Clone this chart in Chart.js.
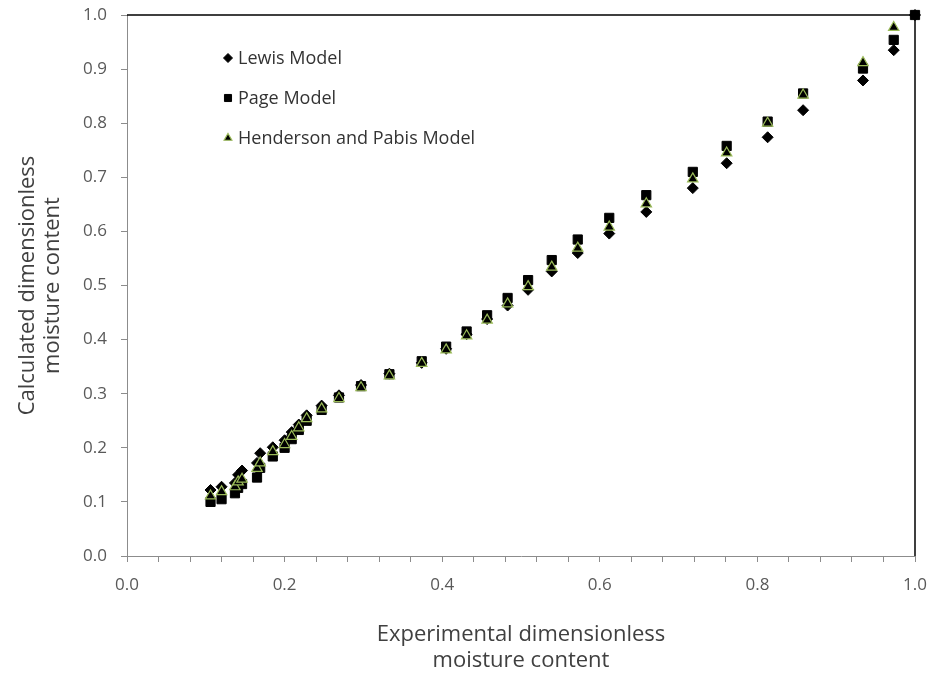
<!DOCTYPE html>
<html>
<head>
<meta charset="utf-8">
<script src="https://cdn.jsdelivr.net/npm/chart.js@4"></script>
<style>
  body { margin: 0; background: #fff; }
</style>
</head>
<body>
<canvas id="chart" width="933" height="678"></canvas>
<script>
// experimental moisture ratio (x), shared by all three models
const xExp = [0.106, 0.120, 0.137, 0.141, 0.146, 0.165, 0.169, 0.185, 0.200, 0.209, 0.218,
  0.228, 0.247, 0.269, 0.297, 0.333, 0.374, 0.405, 0.431, 0.457, 0.483, 0.509, 0.539, 0.572,
  0.612, 0.659, 0.718, 0.761, 0.813, 0.858, 0.934, 0.973, 1.000];

// calculated moisture ratio per model
const lewis = [0.122, 0.128, 0.135, 0.150, 0.158, 0.172, 0.190, 0.201, 0.214, 0.229, 0.243,
  0.260, 0.278, 0.297, 0.316, 0.337, 0.357, 0.383, 0.410, 0.438, 0.463, 0.492, 0.526, 0.560,
  0.596, 0.636, 0.680, 0.726, 0.774, 0.824, 0.879, 0.935, 1.000];
const page = [0.100, 0.105, 0.116, 0.126, 0.133, 0.145, 0.163, 0.184, 0.200, 0.216, 0.233,
  0.250, 0.270, 0.293, 0.314, 0.336, 0.360, 0.387, 0.415, 0.445, 0.477, 0.510, 0.547, 0.585,
  0.625, 0.667, 0.710, 0.758, 0.803, 0.855, 0.901, 0.954, 1.000];
// no triangle is visible at the (1,1) corner
const henderson = [0.111, 0.119, 0.128, 0.137, 0.142, 0.162, 0.172, 0.193, 0.206, 0.221, 0.237,
  0.254, 0.272, 0.291, 0.311, 0.333, 0.356, 0.381, 0.407, 0.436, 0.466, 0.498, 0.534, 0.569,
  0.608, 0.651, 0.697, 0.745, 0.800, 0.852, 0.912, 0.977, null];

const seriesNames = ["Lewis Model", "Page Model", "Henderson and Pabis Model"];
const xLabelled = [0, 0.2, 0.4, 0.6, 0.8, 1.0]; // x ticks every 0.04, labels only on these
const xTitle = ["Experimental dimensionless", "moisture content"];
const yTitle = ["Calculated dimensionless", "moisture content"];

const FONT = "'Open Sans'";
const axisGray = "#8c8c8c";
const green = "#9bbb59";

function toPoints(ys) {
  return xExp.map((x, i) => ({ x: x, y: ys[i] }));
}

// legend drawn inside the plot area, top-left, one item per row
const insideLegend = {
  id: "insideLegend",
  afterDraw(chart) {
    const { ctx, chartArea } = chart;
    ctx.save();
    chart.data.datasets.forEach((ds, i) => {
      const x = chartArea.left + 101;
      const y = chartArea.top + 43 + i * 40;
      ctx.fillStyle = ds.backgroundColor;
      ctx.strokeStyle = ds.borderColor;
      ctx.lineWidth = ds.borderWidth;
      Chart.helpers.drawPoint(ctx, {
        pointStyle: ds.pointStyle,
        radius: ds.legendRadius,
        rotation: 0,
        borderWidth: ds.borderWidth,
      }, x, y);
      ctx.fillStyle = "#333333";
      ctx.font = "18px " + FONT;
      ctx.textBaseline = "middle";
      ctx.textAlign = "left";
      ctx.fillText(ds.label, x + 10, y + 1);
    });
    // black frame on the top and right side of the plot area
    ctx.strokeStyle = "#000";
    ctx.lineWidth = 1.5;
    ctx.beginPath();
    ctx.moveTo(chartArea.left, chartArea.top);
    ctx.lineTo(chartArea.right, chartArea.top);
    ctx.lineTo(chartArea.right, chartArea.bottom);
    ctx.stroke();
    ctx.restore();
  },
};

const ctx = document.getElementById("chart").getContext("2d");
new Chart(ctx, {
  type: "scatter",
  data: {
    datasets: [
      {
        label: seriesNames[0],
        data: toPoints(lewis),
        pointStyle: "rectRot",
        pointRadius: 5.5,
        legendRadius: 4.5,
        backgroundColor: "#000",
        borderColor: "#000",
        borderWidth: 1,
        order: 3,
        clip: false,
      },
      {
        label: seriesNames[1],
        data: toPoints(page),
        pointStyle: "rect",
        pointRadius: 6.5,
        legendRadius: 5,
        backgroundColor: "#000",
        borderColor: "#000",
        borderWidth: 1,
        order: 2,
        clip: false,
      },
      {
        label: seriesNames[2],
        data: toPoints(henderson),
        pointStyle: "triangle",
        pointRadius: 6,
        legendRadius: 4.5,
        backgroundColor: "#000",
        borderColor: green,
        borderWidth: 1.2,
        order: 1,
        clip: false,
      },
    ],
  },
  options: {
    responsive: false,
    animation: false,
    layout: { padding: { top: 15, right: 18, left: 0, bottom: 0 } },
    plugins: {
      legend: { display: false },
      tooltip: { enabled: false },
    },
    scales: {
      x: {
        type: "linear",
        min: 0,
        max: 1,
        afterFit: (scale) => {
          scale.height = 122;
          scale.paddingLeft = 0;
          scale.paddingRight = 0;
        },
        border: { color: axisGray, width: 1 },
        grid: { drawOnChartArea: false, color: axisGray, tickLength: 6 },
        ticks: {
          stepSize: 0.04,
          autoSkip: false,
          maxRotation: 0,
          padding: 13,
          color: "#595959",
          font: { family: FONT, size: 17 },
          callback: (v) => xLabelled.some((t) => Math.abs(t - v) < 1e-6) ? v.toFixed(1) : "",
        },
        title: {
          display: true,
          text: xTitle,
          color: "#404040",
          font: { family: FONT, size: 22, lineHeight: 1.15 },
          padding: { top: 0, bottom: 5 },
        },
      },
      y: {
        type: "linear",
        min: 0,
        max: 1,
        afterFit: (scale) => {
          scale.width = 127;
          scale.paddingTop = 0;
          scale.paddingBottom = 0;
        },
        border: { color: axisGray, width: 1 },
        grid: { drawOnChartArea: false, color: axisGray, tickLength: 6 },
        ticks: {
          stepSize: 0.1,
          padding: 14,
          color: "#595959",
          font: { family: FONT, size: 17 },
          callback: (v) => v.toFixed(1),
        },
        title: {
          display: true,
          text: yTitle,
          color: "#404040",
          font: { family: FONT, size: 22, lineHeight: 1.15 },
          padding: { top: 15, bottom: 0 },
        },
      },
    },
  },
  plugins: [insideLegend],
});
</script>
</body>
</html>
